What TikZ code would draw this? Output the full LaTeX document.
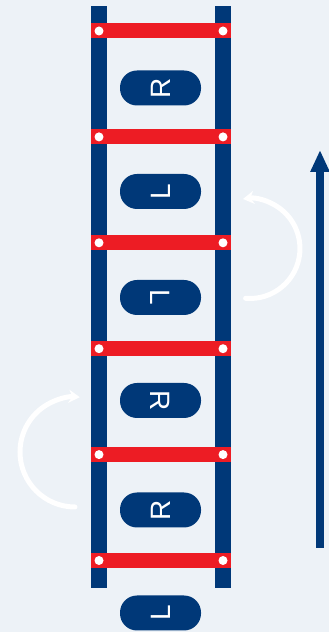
\documentclass[tikz,border=0pt]{standalone}
\usepackage{fontspec}
\setsansfont{Liberation Sans}
\usepackage{graphicx}
\usetikzlibrary{arrows.meta,positioning,calc}
\definecolor{navy}{RGB}{0,56,120}
\definecolor{rungred}{RGB}{237,28,36}
\definecolor{ice}{RGB}{237,242,247}
\tikzset{
  rail/.style={fill=navy,draw=none},
  bar/.style={fill=rungred,draw=none},
  bolt/.style={circle,fill=white,inner sep=0pt,minimum size=9pt},
  foot/.style={fill=navy,rounded corners=17pt,minimum width=81pt,minimum height=35pt,
    inner sep=0pt,text=white,font=\sffamily\fontsize{28}{28}\selectfont},
  turn/.style={white,line width=5pt,line cap=round,-{Stealth[length=11pt,width=13pt]}},
  climb/.style={navy,line width=8pt,-{Triangle[length=22pt,width=18pt]}},
}

\begin{document}
\begin{tikzpicture}[x=1pt,y=1pt]
\fill[ice] (0,0) rectangle (329,632);
\useasboundingbox (0,0) rectangle (329,632);
% ladder
\fill[rail] (91,44) rectangle (107,626);
\fill[rail] (215,44) rectangle (231,626);
\foreach \k in {0,...,5}{
  \pgfmathsetmacro{\yy}{601-105.9*\k}
  \fill[bar] (91,\yy-7.5) rectangle (231,\yy+7.5);
  \node[bolt] at (99,\yy) {};
  \node[bolt] at (223,\yy) {};
}
% steps
\node[foot] (s1) at (160.5,544) {\rotatebox{90}{R}};
\node[foot] (s2) at (160.5,440.5) {\rotatebox{90}{L}};
\node[foot] (s3) at (160.5,334.5) {\rotatebox{-90}{L}};
\node[foot] (s4) at (160.5,231.5) {\rotatebox{-90}{R}};
\node[foot] (s5) at (160.5,122) {\rotatebox{90}{R}};
\node[foot] (s6) at (160.5,19) {\rotatebox{90}{L}};
% turns
\draw[turn] (245.6,333.7) arc[start angle=-95,end angle=98,radius=50];
\draw[turn] (75,125) arc[start angle=270,end angle=85,radius=55];
% direction
\coordinate (base) at (320,84);
\coordinate (tip) at (320,482);
\draw[climb] (base) -- (tip);
\end{tikzpicture}
\end{document}
